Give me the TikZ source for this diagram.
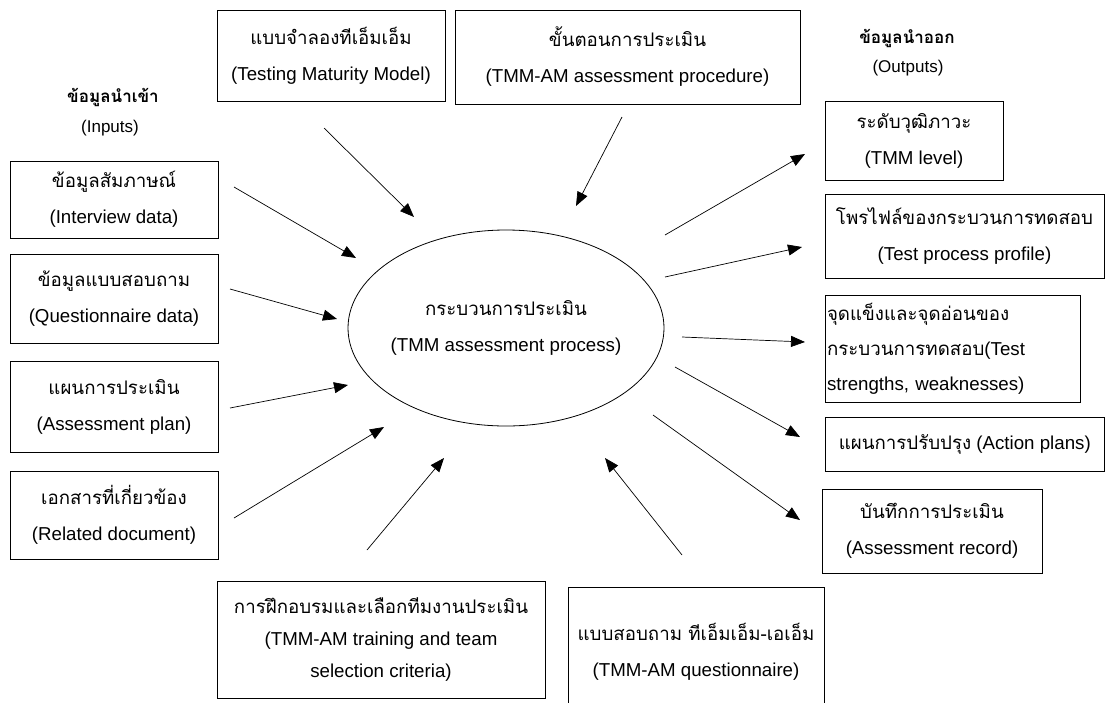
\documentclass[tikz,border=0pt]{standalone}
\usepackage{fontspec}
\setmainfont{Liberation Sans}
\newfontfamily\thaifont[Script=Thai]{Loma}
\usetikzlibrary{arrows.meta,shapes.geometric}

\begin{document}
\begin{tikzpicture}[x=1pt,y=-1pt,
  box/.style={draw, line width=0.8pt, inner sep=0pt, align=center,
    font=\fontsize{18.7}{36}\selectfont},
  flow/.style={-{Triangle[length=14pt,width=11pt]}, line width=0.7pt},
  heading/.style={inner sep=0pt, font=\fontsize{17}{20}\selectfont\thaifont\bfseries},
  subheading/.style={inner sep=0pt, font=\fontsize{17}{20}\selectfont}
]
\useasboundingbox (0,0) rectangle (1105,702);

% central process
\node[draw, ellipse, line width=0.8pt, minimum width=316, minimum height=196,
      inner sep=0pt] (proc) at (506,328) {};
\node[inner sep=0pt, align=center, font=\fontsize{18.7}{36}\selectfont]
  (proctext) at (proc.center) {{\thaifont กระบวนการประเมิน}\\(TMM assessment process)};

% column headings
\node[heading] (intitle) at (113,97) {ข้อมูลนำเข้า};
\node[subheading] (insub) at (110,128) {(Inputs)};
\node[heading] (outtitle) at (907,38) {ข้อมูลนำออก};
\node[subheading] (outsub) at (908,68) {(Outputs)};

% guidance boxes on top
\node[box, minimum width=228, minimum height=91] (model) at (331,55.5)
  {{\thaifont แบบจำลองทีเอ็มเอ็ม}\\(Testing Maturity Model)};
\node[box, minimum width=345, minimum height=94] (procedure) at (627.5,57)
  {{\thaifont ขั้นตอนการประเมิน}\\(TMM-AM assessment procedure)};

% inputs
\node[box, minimum width=208, minimum height=77] (interview) at (114,199.5)
  {{\thaifont ข้อมูลสัมภาษณ์}\\(Interview data)};
\node[box, minimum width=208, minimum height=89] (qdata) at (114,298.5)
  {{\thaifont ข้อมูลแบบสอบถาม}\\(Questionnaire data)};
\node[box, minimum width=208, minimum height=91] (plan) at (114,406.5)
  {{\thaifont แผนการประเมิน}\\(Assessment plan)};
\node[box, minimum width=208, minimum height=88] (docs) at (114,515)
  {{\thaifont เอกสารที่เกี่ยวข้อง}\\(Related document)};

% resources at the bottom
\node[box, minimum width=328, minimum height=117, font=\fontsize{18.7}{32}\selectfont]
  (training) at (381,640)
  {{\thaifont การฝึกอบรมและเลือกทีมงานประเมิน}\\(TMM-AM training and team\\selection criteria)};
\node[box, minimum width=256, minimum height=130] (quest) at (696,652)
  {{\thaifont แบบสอบถาม ทีเอ็มเอ็ม-เอเอ็ม}\\(TMM-AM questionnaire)};

% outputs
\node[box, minimum width=178, minimum height=79] (level) at (914,140.5)
  {{\thaifont ระดับวุฒิภาวะ}\\(TMM level)};
\node[box, minimum width=279, minimum height=84] (profile) at (964.5,236)
  {{\thaifont โพรไฟล์ของกระบวนการทดสอบ}\\(Test process profile)};
\node[box, minimum width=255, minimum height=107, align=left, text width=251,
      font=\fontsize{18.7}{35}\selectfont] (strength) at (952.5,348.5)
  {\rule{0pt}{8pt}{\thaifont จุดแข็งและจุดอ่อนของ}\\{\thaifont กระบวนการทดสอบ}(Test\\strengths, weaknesses)};
\node[box, minimum width=279.5, minimum height=54] (action) at (964.75,444)
  {{\thaifont แผนการปรับปรุง} (Action plans)};
\node[box, minimum width=220, minimum height=84] (record) at (932,531)
  {{\thaifont บันทึกการประเมิน}\\(Assessment record)};

% arrow ends
\coordinate (mS) at (324,128);  \coordinate (mE) at (414,217);
\coordinate (pS) at (622,117);  \coordinate (pE) at (576,206);
\coordinate (iS) at (234,187);  \coordinate (iE) at (356,258);
\coordinate (qS) at (230,289);  \coordinate (qE) at (337,319);
\coordinate (aS) at (230,408);  \coordinate (aE) at (348,385);
\coordinate (dS) at (234,518);  \coordinate (dE) at (384,427);
\coordinate (tS) at (367,550);  \coordinate (tE) at (444,458);
\coordinate (uS) at (682,555);  \coordinate (uE) at (605,458);
\coordinate (lS) at (665,235);  \coordinate (lE) at (805,154);
\coordinate (fS) at (665,277);  \coordinate (fE) at (802,247);
\coordinate (sS) at (682,337);  \coordinate (sE) at (805,342);
\coordinate (cS) at (675,367);  \coordinate (cE) at (800,437);
\coordinate (rS) at (653,415);  \coordinate (rE) at (800,520);

\foreach \a in {m,p,i,q,a,d,t,u,l,f,s,c,r}
  \draw[flow] (\a S) -- (\a E);
\end{tikzpicture}
\end{document}
